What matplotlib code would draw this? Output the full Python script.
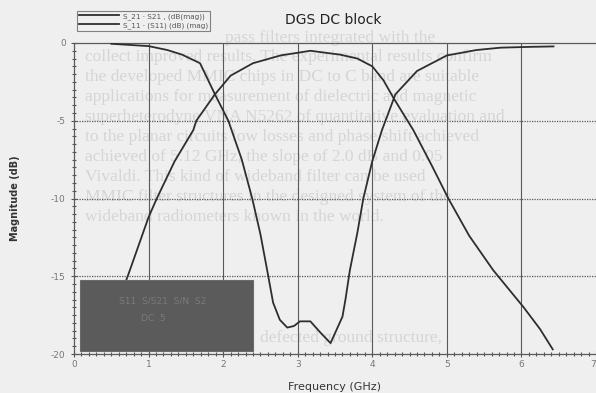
import matplotlib
matplotlib.use("Agg")
import matplotlib.pyplot as plt
from matplotlib.patches import Rectangle
import numpy as np

# ---- data ----
freq_s21 = [0.5, 1.0, 1.25, 1.45, 1.69, 1.89, 2.07, 2.25, 2.39, 2.5, 2.59, 2.67, 2.76,
            2.86, 2.95, 3.03, 3.17, 3.3, 3.44, 3.6, 3.64, 3.7, 3.8, 3.88, 4.0,
            4.13, 4.31, 4.6, 5.0, 5.4, 5.72, 6.1, 6.43]
mag_s21 = [-0.05, -0.2, -0.45, -0.75, -1.3, -3.3, -5.0, -7.5, -10.0, -12.3, -14.6, -16.7,
           -17.8, -18.3, -18.2, -17.9, -17.9, -18.6, -19.3, -17.6, -16.5, -14.6,
           -12.2, -10.0, -7.6, -5.6, -3.3, -1.8, -0.8, -0.45, -0.3, -0.25, -0.22]

freq_s11 = [0.5, 0.75, 1.0, 1.11, 1.35, 1.6, 1.64, 1.89, 2.1, 2.4, 2.77, 3.17, 3.57,
            3.8, 4.0, 4.15, 4.28, 4.55, 4.8, 5.02, 5.3, 5.62, 6.03, 6.25, 6.42]
mag_s11 = [-17.9, -14.6, -11.2, -10.0, -7.6, -5.6, -5.0, -3.3, -2.1, -1.3, -0.8, -0.5,
           -0.75, -1.0, -1.5, -2.4, -3.5, -5.6, -7.9, -10.0, -12.4, -14.6, -17.0,
           -18.4, -19.7]

legend_labels = ["S_21 \u00b7 S21 , (dB(mag))", "S_11 \u00b7 (S11) (dB) (mag)"]
x_ticks = [0, 1, 2, 3, 4, 5, 6, 7]
y_ticks = [0, -5, -10, -15, -20]

title = "DGS DC block"
xlabel = "Frequency (GHz)"
ylabel = "Magnitude (dB)"

bleed_lines = [
    (225, 30,  "pass filters integrated with the"),
    (85, 49,  "collect improved results. The experimental results confirm"),
    (85, 69,  "the developed MMIC chips in DC to C band are suitable"),
    (85, 89,  "applications for measurement of dielectric and magnetic"),
    (85, 109, "superheterodyne VNA N5262 of quantitative evaluation and"),
    (85, 129, "to the planar circuits low losses and phase shift achieved"),
    (85, 149, "achieved of 5.12 GHz, the slope of 2.0 dB and 0.05"),
    (85, 169, "Vivaldi. This kind of wideband filter can be used"),
    (85, 189, "MMIC filter structures in the designed system of the"),
    (85, 209, "wideband radiometers known in the world."),
    (260, 330, "defected ground structure,"),
]

W, H = 596, 393
fig = plt.figure(figsize=(W / 100, H / 100), dpi=100)
bg = "#efefef"
fig.patch.set_facecolor(bg)

# faint bleed-through text of the scanned page
for xpx, ypx, txt in bleed_lines:
    fig.text(xpx / W, 1 - ypx / H, txt, fontsize=12.5, family="Liberation Serif",
             color="#d5d5d5", va="top", ha="left", zorder=-5)

ax = fig.add_axes([74 / W, 1 - 354 / H, (596 - 74) / W, (354 - 43) / H])
ax.set_facecolor("none")

line_color = "#2e2e2e"
l1, = ax.plot(freq_s21, mag_s21, color=line_color, lw=1.3, zorder=3)
l2, = ax.plot(freq_s11, mag_s11, color=line_color, lw=1.3, zorder=3)

ax.set_xlim(0, 7)
ax.set_ylim(-20, 0)
ax.set_xticks(x_ticks)
ax.set_xticklabels([str(t) for t in x_ticks])
ax.get_xticklabels()[-1].set_horizontalalignment("right")
ax.set_yticks(y_ticks)
ax.set_yticklabels([str(t) for t in y_ticks])
ax.set_xticks(np.arange(0, 7.01, 0.1), minor=True)
ax.set_yticks(np.arange(-20, 0.01, 0.5), minor=True)
ax.tick_params(axis="both", which="major", labelsize=6.5, colors="#555555",
               direction="inout", length=4, width=0.8, labelcolor="#777777")
ax.tick_params(axis="both", which="minor", direction="inout", length=2.5,
               width=0.8, colors="#555555")
ax.tick_params(axis="x", pad=2)
ax.tick_params(axis="y", pad=4)

for xv in x_ticks[1:-1]:
    ax.axvline(xv, color="#5a5a5a", lw=0.8, zorder=1)
for yv in y_ticks[1:-1]:
    ax.axhline(yv, color="#5a5a5a", lw=0.9, ls=(0, (1, 1)), zorder=1)

ax.spines["top"].set_linestyle((0, (1, 1)))
ax.spines["top"].set_color("#5a5a5a")
ax.spines["bottom"].set_linestyle((0, (1, 1)))
ax.spines["bottom"].set_color("#5a5a5a")
ax.spines["left"].set_color("#5a5a5a")
ax.spines["right"].set_visible(False)
for s in ("top", "bottom", "left"):
    ax.spines[s].set_linewidth(0.9)

# dark redaction box over the lower-left corner
ax.add_patch(Rectangle((0.08, -19.8), 2.32, 4.55, facecolor="#5b5b5b",
                       edgecolor="#6a6a6a", lw=0.8, zorder=5))
ax.text(0.6, -16.6, "S11  S/S21  S/N  S2", fontsize=6.5, color="#7a7a7a",
        ha="left", va="center", zorder=6)
ax.text(0.9, -17.7, "DC  5", fontsize=6.5, color="#7a7a7a",
        ha="left", va="center", zorder=6)

ax.set_xlabel(xlabel, fontsize=8, color="#333333", labelpad=10)
ax.set_ylabel(ylabel, fontsize=7, color="#333333", fontweight="bold", labelpad=22)

fig.text(333 / W, 1 - 20 / H, title, fontsize=10, color="#222222",
         ha="center", va="center")

leg = fig.legend([l1, l2], legend_labels, loc="upper left",
                 bbox_to_anchor=(73 / W, 1 - 7 / H), fontsize=5.2,
                 handlelength=5.5, frameon=True, fancybox=False,
                 borderpad=0.3, labelspacing=0.3, handletextpad=0.6)
leg.get_frame().set_edgecolor("#666666")
leg.get_frame().set_facecolor(bg)
leg.get_frame().set_linewidth(0.8)
for t in leg.get_texts():
    t.set_color("#555555")

fig.savefig("out.png", dpi=100, facecolor=fig.get_facecolor())
